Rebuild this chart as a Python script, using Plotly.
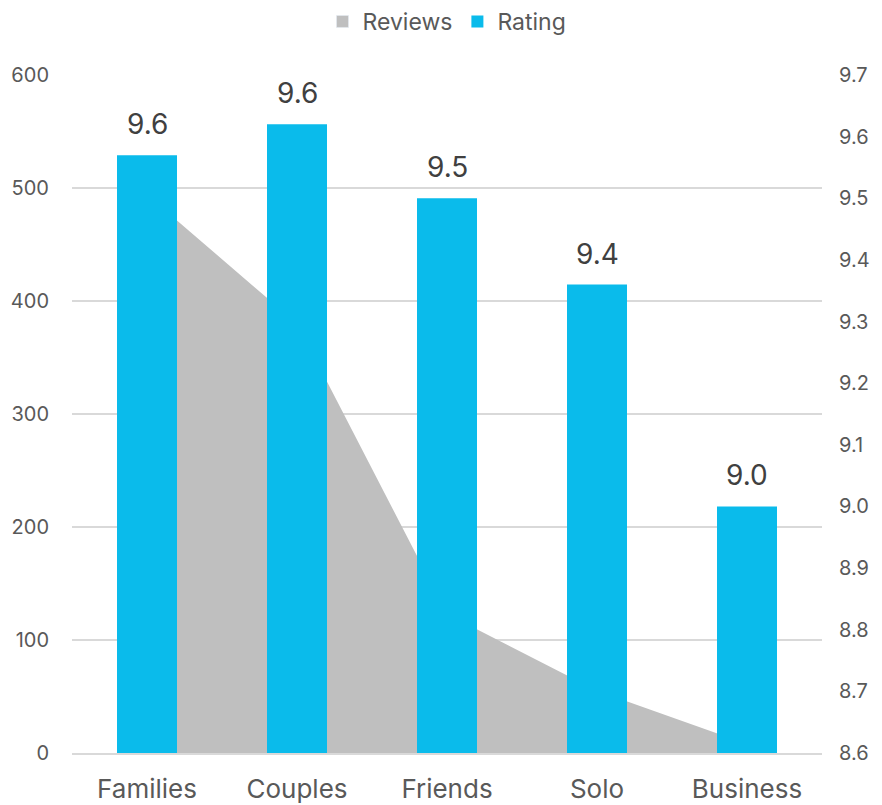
import plotly.graph_objects as go

# Guest segments with review counts (left axis) and average rating (right axis)
categories = ["Families", "Couples", "Friends", "Solo", "Business"]
reviews = [494, 380, 123, 55, 8]
ratings = [9.57, 9.62, 9.50, 9.36, 9.00]

left_ticks = [0, 100, 200, 300, 400, 500, 600]
right_ticks = [8.6, 8.7, 8.8, 8.9, 9.0, 9.1, 9.2, 9.3, 9.4, 9.5, 9.6, 9.7]

TEXT = "#595959"
GRID = "#D9D9D9"
AREA = "#BFBFBF"
BAR = "#0ABBEB"
FONT = "Inter"

fig = go.Figure()

# Review counts as a filled area on the left axis
fig.add_trace(go.Scatter(
    x=categories, y=reviews, name="Reviews",
    mode="none", fill="tozeroy", fillcolor=AREA,
    yaxis="y", showlegend=False, hoverinfo="x+y",
))

# Square swatch for the Reviews legend entry
fig.add_trace(go.Bar(
    x=[None], y=[None], name="Reviews",
    marker=dict(color=AREA), yaxis="y", showlegend=True,
))

# Ratings as bars on the right axis
fig.add_trace(go.Bar(
    x=categories, y=ratings, name="Rating",
    marker=dict(color=BAR, line=dict(width=0)),
    width=0.4,
    yaxis="y2",
))

# Value labels floating above each bar
for cat, val in zip(categories, ratings):
    fig.add_annotation(
        x=cat, y=val, xref="x", yref="y2",
        text=f"{val:.1f}", showarrow=False,
        yanchor="bottom", yshift=12,
        font=dict(size=28, color="#404040", family=FONT),
    )

fig.update_layout(
    width=882, height=805,
    margin=dict(l=72, r=60, t=75, b=52),
    paper_bgcolor="white", plot_bgcolor="white",
    font=dict(family=FONT, size=20, color=TEXT),
    barmode="overlay",
    showlegend=True,
    legend=dict(
        orientation="h", x=0.5, xanchor="center",
        y=1.0, yanchor="top", yref="container",
        font=dict(size=23, color=TEXT),
        itemwidth=30, tracegroupgap=0,
    ),
    xaxis=dict(
        type="category", range=[-0.5, 4.5], automargin=False,
        showgrid=False, showline=True, linecolor=GRID, linewidth=2,
        ticks="", ticklabelstandoff=12,
        tickfont=dict(size=26, color=TEXT),
    ),
    yaxis=dict(
        range=[0, 600], tickvals=left_ticks, automargin=False,
        showgrid=True, gridcolor=GRID, gridwidth=1.5,
        zeroline=False, showline=False, ticks="",
        ticklabelstandoff=22,
        tickfont=dict(size=20, color=TEXT),
    ),
    yaxis2=dict(
        range=[8.6, 9.7], tickvals=right_ticks, tickformat=".1f",
        overlaying="y", side="right", automargin=False,
        showgrid=False, zeroline=False, showline=False, ticks="",
        ticklabelstandoff=16,
        tickfont=dict(size=20, color=TEXT),
    ),
)

fig.write_html("out.html")
